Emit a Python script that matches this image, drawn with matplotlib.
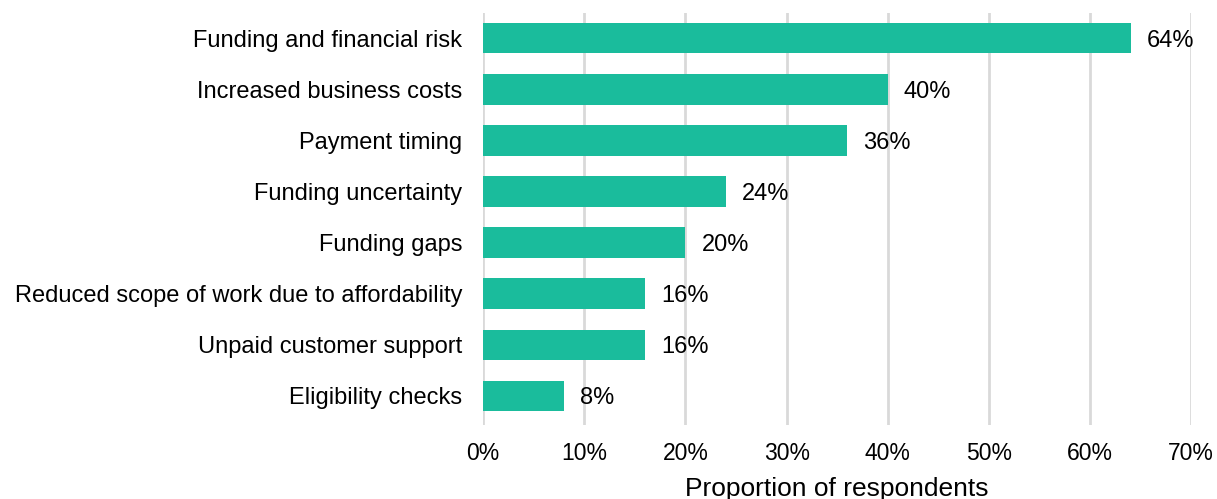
import numpy as np
import matplotlib.pyplot as plt
from matplotlib.ticker import FuncFormatter

plt.rcParams['font.family'] = ['Liberation Sans', 'DejaVu Sans']

# survey responses, top to bottom
categories = [
    "Funding and financial risk",
    "Increased business costs",
    "Payment timing",
    "Funding uncertainty",
    "Funding gaps",
    "Reduced scope of work due to affordability",
    "Unpaid customer support",
    "Eligibility checks",
]
shares = [64, 40, 36, 24, 20, 16, 16, 8]
xticks = [0, 10, 20, 30, 40, 50, 60, 70]

fig = plt.figure(figsize=(12.17, 4.99), dpi=100)
ax = fig.add_axes([0.397, 0.148, 0.5818, 0.826])

ypos = np.arange(len(categories))
ax.barh(ypos, shares, height=0.6, color='#1abc9c', zorder=2)

# value labels just past the end of each bar
for y, v in zip(ypos, shares):
    ax.text(v + 1.6, y, f"{v}%", va='center_baseline', ha='left', fontsize=17, color='black')

ax.set_yticks(ypos)
ax.set_yticklabels(categories, fontsize=17)
ax.set_ylim(7.57, -0.49)

ax.set_xlim(0, 70)
ax.set_xticks(xticks)
ax.xaxis.set_major_formatter(FuncFormatter(lambda v, p: f"{v:.0f}%"))
ax.tick_params(axis='x', labelsize=16.5, length=0, pad=12)
ax.tick_params(axis='y', length=0, pad=15)
ax.set_xlabel("Proportion of respondents", fontsize=19, labelpad=9)

ax.grid(axis='x', color='#d9d9d9', linewidth=2, zorder=0)
ax.set_axisbelow(True)
for s in ax.spines.values():
    s.set_visible(False)

fig.savefig("out.png", dpi=100)
